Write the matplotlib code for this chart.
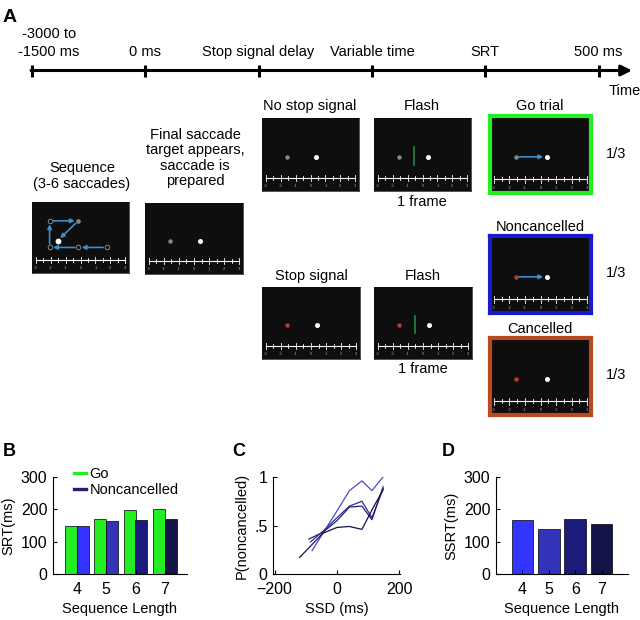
import numpy as np
import matplotlib
matplotlib.use("Agg")
import matplotlib.pyplot as plt
from matplotlib.lines import Line2D

plt.rcParams['font.family'] = ['Liberation Sans', 'DejaVu Sans']
plt.rcParams['font.size'] = 10

# --- data ---
events = ['-3000 to\n-1500 ms', '0 ms', 'Stop signal delay', 'Variable time', 'SRT', '500 ms']

seq_len = [4, 5, 6, 7]
srt_go = [150, 171, 198, 201]
srt_nc = [150, 164, 167, 170]
ssrt = [166, 139, 170, 154]
len_colors = ['#3434ff', '#3434bb', '#1b1b7c', '#131348']
go_color = '#22ee22'

# P(noncancelled) vs SSD, one line per sequence length
ssd_4 = [-80, -45, 0, 40, 80, 112, 148]
pnc_4 = [0.24, 0.42, 0.65, 0.86, 0.96, 0.86, 1.0]
ssd_5 = [-85, -45, 0, 40, 80, 112, 148]
pnc_5 = [0.33, 0.44, 0.58, 0.70, 0.75, 0.58, 0.88]
ssd_6 = [-90, -45, 0, 40, 80, 112, 148]
pnc_6 = [0.36, 0.43, 0.55, 0.69, 0.70, 0.56, 0.90]
ssd_7 = [-120, -45, 0, 40, 80, 112, 148]
pnc_7 = [0.17, 0.42, 0.48, 0.49, 0.46, 0.66, 0.87]

# screen contents (degrees)
ruler = np.arange(-3, 3.01, 0.5)
target_x, fix_x, dot_y, flash_x = -1.6, 0.4, 0.47, -0.55
seq_x = [1.75, -0.15, -2.07, -2.07, -0.15, -1.53]
seq_y = [0.36, 0.36, 0.36, 0.735, 0.735, 0.456]

W, H = 640, 620
fig = plt.figure(figsize=(W / 100, H / 100), dpi=100)

ov = fig.add_axes([0, 0, 1, 1])
ov.set_xlim(0, W)
ov.set_ylim(H, 0)
ov.axis('off')


def px_axes(x0, y0, x1, y1):
    return fig.add_axes([x0 / W, 1 - y1 / H, (x1 - x0) / W, (y1 - y0) / H])


# --- panel A: timeline ---
ov.text(3, 17, 'A', fontsize=14, fontweight='bold', va='center')
tl_x0, tl_step, tl_y = 32, 113.3, 70.5
ov.annotate('', xy=(632, tl_y), xytext=(tl_x0 - 1, tl_y),
            arrowprops=dict(arrowstyle='-|>', color='black', lw=2.2,
                            mutation_scale=16, shrinkA=0, shrinkB=0))
for i, lab in enumerate(events):
    x = tl_x0 + tl_step * i
    ov.plot([x, x], [tl_y - 6, tl_y + 6], color='black', lw=2.2, solid_capstyle='butt')
    if i == 0:
        ov.text(49, 43, lab, ha='center', va='center', fontsize=10.5, linespacing=1.35)
    else:
        ov.text(x, 52, lab, ha='center', va='center', fontsize=10.5)
ov.text(625, 91, 'Time', ha='center', va='center', fontsize=10.5)

blue_arrow = '#3a8fd0'
red_dot = '#b8402a'


def screen(x0, y0, x1, y1, border=None):
    ax = px_axes(x0, y0, x1, y1)
    bg = '#0e0e0e'
    ax.set_facecolor(bg)
    ax.set_xlim(-3.25, 3.25)
    ax.set_ylim(0, 1)
    ax.set_xticks([])
    ax.set_yticks([])
    for s in ax.spines.values():
        s.set_color(border or bg)
        s.set_linewidth(3 if border else 0.5)
    ry = 0.18
    ax.plot([ruler[0], ruler[-1]], [ry, ry], color='white', lw=0.8)
    for t in ruler:
        h = 0.045 if t % 1 == 0 else 0.03
        ax.plot([t, t], [ry - h, ry + h], color='white', lw=0.6)
    for t in ruler[::2]:
        ax.text(t, 0.07, f'{t:g}', color='#aaaaaa', fontsize=3, ha='center', va='center')
    return ax


def dots(ax, target_color):
    ax.plot(target_x, dot_y, 'o', color=target_color, ms=3.2, mec='none')
    ax.plot(fix_x, dot_y, 'o', color='white', ms=3.6, mec='none')


def arrow(ax, x0, y0, x1, y1):
    ax.annotate('', xy=(x1, y1), xytext=(x0, y0),
                arrowprops=dict(arrowstyle='-|>', color=blue_arrow, lw=1.2,
                                mutation_scale=6, shrinkA=2.5, shrinkB=2.5))


# Sequence screen
ax = screen(32, 202, 129, 273)
for i in range(len(seq_x) - 1):
    arrow(ax, seq_x[i], seq_y[i], seq_x[i + 1], seq_y[i + 1])
for i in range(len(seq_x) - 2):
    ax.plot(seq_x[i], seq_y[i], 'o', mfc='none', mec='#888888', ms=3.3, mew=0.7)
ax.plot(seq_x[4], seq_y[4], 'o', color='#888888', ms=3.3, mec='none')
ax.plot(seq_x[5], seq_y[5], 'o', color='white', ms=4.2, mec='none')
ov.text(82, 176, 'Sequence\n(3-6 saccades)', ha='center', va='center', fontsize=10.5, linespacing=1.2)

# Final target screen
ax = screen(145, 203, 243, 274)
dots(ax, '#888888')
ov.text(195, 158, 'Final saccade\ntarget appears,\nsaccade is\nprepared', ha='center', va='center',
        fontsize=10.5, linespacing=1.15)

# No stop signal / flash / go
ax = screen(262, 118, 359, 191)
dots(ax, '#888888')
ov.text(310, 106, 'No stop signal', ha='center', va='center', fontsize=10.5)

ax = screen(374, 118, 471, 191)
dots(ax, '#888888')
ax.plot([flash_x, flash_x], [0.36, 0.6], color='#1f8a3a', lw=1.2)
ov.text(422, 106, 'Flash', ha='center', va='center', fontsize=10.5)
ov.text(422, 202, '1 frame', ha='center', va='center', fontsize=10.5)

ax = screen(490, 116, 591, 193, border=go_color)
dots(ax, '#888888')
arrow(ax, target_x, dot_y, fix_x, dot_y)
ov.text(540, 106, 'Go trial', ha='center', va='center', fontsize=10.5)
ov.text(616, 154, '1/3', ha='center', va='center', fontsize=10.5)

# Stop signal / flash / outcomes
ax = screen(262, 287, 360, 359)
dots(ax, red_dot)
ov.text(311, 276, 'Stop signal', ha='center', va='center', fontsize=10.5)

ax = screen(374, 287, 472, 359)
dots(ax, red_dot)
ax.plot([flash_x, flash_x], [0.36, 0.6], color='#1f8a3a', lw=1.2)
ov.text(423, 276, 'Flash', ha='center', va='center', fontsize=10.5)
ov.text(423, 369, '1 frame', ha='center', va='center', fontsize=10.5)

ax = screen(490, 236, 591, 313, border='#1a1acc')
dots(ax, red_dot)
arrow(ax, target_x, dot_y, fix_x, dot_y)
ov.text(540, 227, 'Noncancelled', ha='center', va='center', fontsize=10.5)
ov.text(616, 273, '1/3', ha='center', va='center', fontsize=10.5)

ax = screen(490, 338, 591, 415, border='#b84a22')
dots(ax, red_dot)
ov.text(540, 329, 'Cancelled', ha='center', va='center', fontsize=10.5)
ov.text(616, 375, '1/3', ha='center', va='center', fontsize=10.5)


# --- bottom panels ---
def style(ax):
    for s in ['top', 'right']:
        ax.spines[s].set_visible(False)
    for s in ['left', 'bottom']:
        ax.spines[s].set_linewidth(0.8)
    ax.tick_params(direction='in', length=3, width=0.8, labelsize=11.5)
    ax.tick_params(axis='x', pad=6)
    ax.tick_params(axis='y', pad=4)
    ax.xaxis.set_label_coords(0.5, -35 / 97)
    ax.xaxis.label.set_va('center')


# B
axB = px_axes(53, 477, 187, 574)
x = np.array(seq_len)
axB.bar(x - 0.2, srt_go, width=0.41, color=go_color, edgecolor='black', lw=0.5)
axB.bar(x + 0.2, srt_nc, width=0.41, color=len_colors, edgecolor='black', lw=0.5)
axB.set_xlim(3.19, 7.75)
axB.set_ylim(0, 300)
axB.set_xticks(seq_len)
axB.set_yticks([0, 100, 200, 300])
axB.set_xlabel('Sequence Length', fontsize=10.5)
axB.set_ylabel('SRT(ms)', fontsize=10.5, va='center')
style(axB)
axB.yaxis.set_label_coords(-45 / 134, 0.5)
axB.legend(handles=[Line2D([], [], color=go_color, lw=2.4),
                    Line2D([], [], color='#222266', lw=2.4)],
           labels=['Go', 'Noncancelled'], loc='upper left',
           bbox_to_anchor=(74 / W, 1 - 467 / H), bbox_transform=fig.transFigure,
           frameon=False, borderpad=0, borderaxespad=0, handlelength=0.85,
           handletextpad=0.2, labelspacing=0.15, fontsize=10.5)
fig.text(3 / W, 1 - 451 / H, 'B', fontsize=13, fontweight='bold', va='center')

# C
axC = px_axes(273, 477, 400, 574)
for sx, py, c in zip([ssd_4, ssd_5, ssd_6, ssd_7], [pnc_4, pnc_5, pnc_6, pnc_7],
                     ['#4a4ad0', '#2c2c9c', '#202070', '#151545']):
    axC.plot(sx, py, color=c, lw=0.9)
axC.set_xlim(-205, 202)
axC.set_ylim(0, 1)
axC.set_xticks([-200, 0, 200])
axC.set_yticks([0, 0.5, 1])
axC.set_yticklabels(['0', '.5', '1'])
axC.set_xlabel('SSD (ms)', fontsize=10.5)
axC.set_ylabel('P(noncancelled)', fontsize=10.5, va='center')
style(axC)
axC.yaxis.set_label_coords(-31 / 127, 0.5)
fig.text(232 / W, 1 - 451 / H, 'C', fontsize=13, fontweight='bold', va='center')

# D
axD = px_axes(496, 477, 628, 574)
axD.bar(seq_len, ssrt, width=0.82, color=len_colors, edgecolor='black', lw=0.5)
axD.set_xlim(3.0, 8.0)
axD.set_ylim(0, 300)
axD.set_xticks(seq_len)
axD.set_yticks([0, 100, 200, 300])
axD.set_xlabel('Sequence Length', fontsize=10.5)
axD.set_ylabel('SSRT(ms)', fontsize=10.5, va='center')
style(axD)
axD.yaxis.set_label_coords(-45 / 132, 0.5)
fig.text(442 / W, 1 - 451 / H, 'D', fontsize=13, fontweight='bold', va='center')

fig.savefig('out.png', dpi=100)
plt.close(fig)
